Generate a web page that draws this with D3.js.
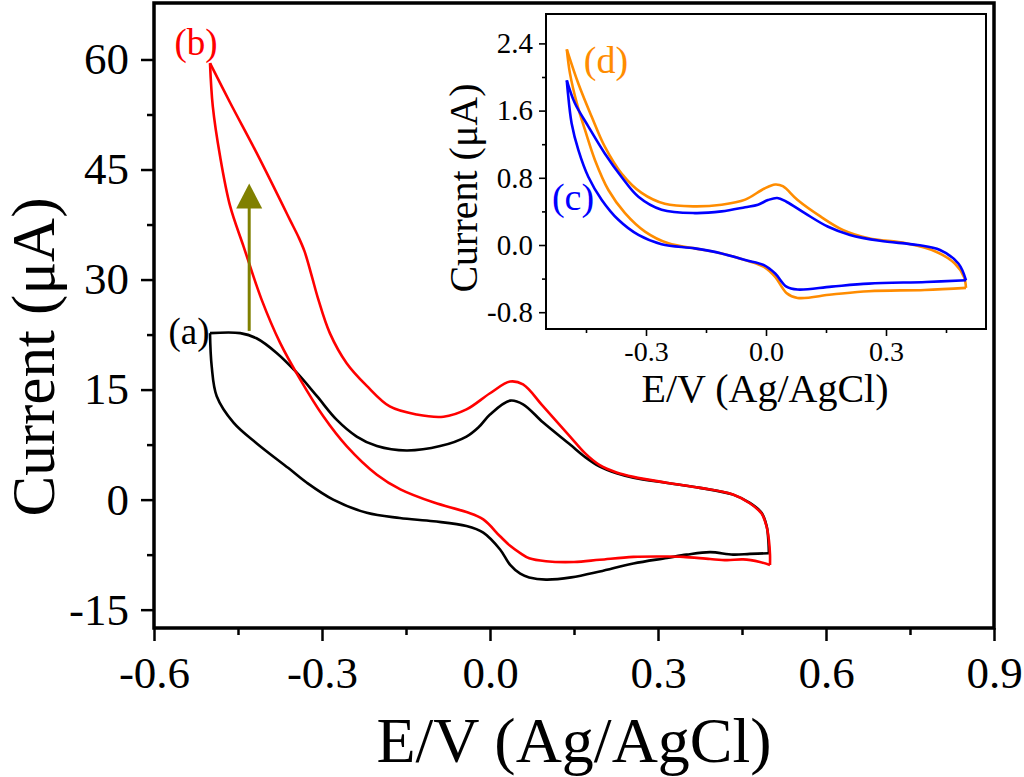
<!DOCTYPE html>
<html>
<head>
<meta charset="utf-8">
<script src="https://cdn.jsdelivr.net/npm/d3@7"></script>
<style>
body { margin: 0; background: #fff; }
svg { display: block; }
text { font-family: "Liberation Serif", "Times New Roman", serif; }
</style>
</head>
<body>
<svg id="chart" width="1024" height="777"></svg>
<script>
// ---- data: [E (V), I (uA)] ----
// (a) forward (anodic) and reverse (cathodic) scans
const scanA_fwd = [[-0.5,22.7],[-0.446,22.7],[-0.417,22.0],[-0.381,20.0],[-0.345,17.3],[-0.309,14.1],
  [-0.274,10.9],[-0.238,8.6],[-0.202,7.3],[-0.149,6.7],[-0.089,7.3],[-0.042,8.6],[-0.02,9.9],[0.0,11.6],
  [0.036,13.5],[0.059,13.0],[0.095,10.5],[0.143,7.5],[0.17,5.8],[0.196,4.5],[0.226,3.6],[0.256,3.0],
  [0.316,2.27],[0.375,1.6],[0.434,0.68],[0.464,-0.45],[0.485,-1.8],[0.494,-3.6],[0.497,-5.5],[0.498,-7.3]]
const scanA_rev = [[0.498,-7.3],[0.464,-7.4],[0.434,-7.5],[0.393,-7.15],[0.351,-7.5],[0.316,-7.95],
  [0.256,-8.7],[0.196,-9.8],[0.145,-10.6],[0.1,-10.9],[0.07,-10.6],[0.054,-10.1],[0.036,-8.9],[0.018,-6.8],
  [-0.012,-4.5],[-0.042,-3.6],[-0.101,-2.95],[-0.161,-2.5],[-0.22,-1.8],[-0.28,0.0],[-0.327,2.3],
  [-0.36,4.3],[-0.417,7.7],[-0.458,10.5],[-0.488,14.1],[-0.497,18.2],[-0.5,22.7]]
// (b)
const scanB_fwd = [[-0.5,59.5],[-0.464,54.1],[-0.417,47.3],[-0.375,40.9],[-0.357,38.1],[-0.342,35.8],
  [-0.331,33.8],[-0.318,30.4],[-0.307,27.4],[-0.286,22.7],[-0.256,18.6],[-0.22,15.5],[-0.179,12.7],
  [-0.131,11.6],[-0.083,11.3],[-0.042,12.3],[0.0,14.5],[0.036,16.1],[0.059,15.7],[0.095,12.7],
  [0.143,8.6],[0.17,6.3],[0.196,4.7],[0.226,3.7],[0.256,3.1],[0.316,2.3],[0.375,1.6],[0.434,0.7],
  [0.464,-0.5],[0.485,-1.9],[0.494,-3.7],[0.498,-5.5],[0.5,-7.5],[0.5,-8.9]]
const scanB_rev = [[0.5,-8.9],[0.482,-8.5],[0.452,-8.15],[0.423,-8.25],[0.393,-8.1],[0.345,-7.8],
  [0.316,-7.75],[0.256,-7.8],[0.196,-8.2],[0.15,-8.5],[0.1,-8.4],[0.07,-8.0],[0.054,-7.3],[0.036,-6.3],
  [0.018,-5.0],[-0.012,-2.7],[-0.042,-1.7],[-0.1,-0.4],[-0.16,1.4],[-0.202,3.4],[-0.256,7.3],
  [-0.298,11.4],[-0.339,16.4],[-0.375,21.4],[-0.408,27.3],[-0.44,34.5],[-0.464,40],[-0.482,46.8],
  [-0.495,53.6],[-0.5,59.5]]
// inset (c) and (d)
const scanC_fwd = [[-0.498,1.96],[-0.478,1.69],[-0.444,1.41],[-0.403,1.09],[-0.361,0.81],[-0.319,0.575],
  [-0.261,0.42],[-0.178,0.38],[-0.111,0.40],[-0.052,0.45],[-0.02,0.48],[0.005,0.535],[0.028,0.56],
  [0.051,0.515],[0.098,0.376],[0.154,0.22],[0.21,0.12],[0.285,0.05],[0.379,0.0],[0.435,-0.06],
  [0.481,-0.22],[0.5,-0.42]]
const scanC_rev = [[0.5,-0.42],[0.4,-0.44],[0.257,-0.46],[0.164,-0.495],[0.079,-0.53],[0.051,-0.495],
  [0.023,-0.34],[-0.005,-0.24],[-0.052,-0.18],[-0.111,-0.10],[-0.178,-0.04],[-0.261,0.01],[-0.319,0.12],
  [-0.369,0.30],[-0.411,0.54],[-0.444,0.81],[-0.469,1.13],[-0.486,1.45],[-0.496,1.85],[-0.498,1.96]]
const scanD_fwd = [[-0.498,2.33],[-0.469,1.92],[-0.436,1.53],[-0.403,1.17],[-0.361,0.85],[-0.311,0.62],
  [-0.253,0.49],[-0.178,0.46],[-0.111,0.48],[-0.052,0.54],[-0.005,0.67],[0.023,0.72],[0.042,0.70],
  [0.079,0.535],[0.136,0.34],[0.192,0.18],[0.257,0.08],[0.35,0.02],[0.425,-0.08],[0.472,-0.22],
  [0.495,-0.38],[0.5,-0.51]]
const scanD_rev = [[0.5,-0.51],[0.397,-0.535],[0.257,-0.55],[0.164,-0.59],[0.079,-0.63],[0.051,-0.57],
  [0.023,-0.38],[-0.005,-0.26],[-0.052,-0.18],[-0.111,-0.10],[-0.178,-0.04],[-0.244,0.02],[-0.3025,0.16],
  [-0.3525,0.38],[-0.394,0.655],[-0.4275,1.01],[-0.4525,1.37],[-0.473,1.69],[-0.49,2.04],[-0.498,2.33]]

// arrow (E, from I, to I)
const arrowE = -0.43
const arrowI = [23, 43.1]

// ticks
const mainXTicks = [-0.6, -0.3, 0, 0.3, 0.6, 0.9]
const mainXLabels = ['-0.6', '-0.3', '0.0', '0.3', '0.6', '0.9']
const mainXMinor = [-0.45, -0.15, 0.15, 0.45, 0.75]
const mainYTicks = [-15, 0, 15, 30, 45, 60]
const mainYLabels = ['-15', '0', '15', '30', '45', '60']
const mainYMinor = [-7.5, 7.5, 22.5, 37.5, 52.5]
const insetXTicks = [-0.3, 0, 0.3]
const insetXLabels = ['-0.3', '0.0', '0.3']
const insetXMinor = [-0.45, -0.15, 0.15, 0.45]
const insetYTicks = [-0.8, 0, 0.8, 1.6, 2.4]
const insetYLabels = ['-0.8', '0.0', '0.8', '1.6', '2.4']
const insetYMinor = [-0.4, 0.4, 1.2, 2.0]

const svg = d3.select('#chart')

// ---- main plot ----
const frame = { left: 154, right: 994, top: 3, bottom: 628 }
const x = d3.scaleLinear().domain([-0.6, 0.9]).range([frame.left, frame.right])
const y = d3.scaleLinear().domain([-17.5, 67.7]).range([frame.bottom, frame.top])

function styleAxis(g, width, fontSize) {
    g.select('.domain').remove()
    g.selectAll('line').attr('stroke', '#000').attr('stroke-width', width)
    g.selectAll('text').attr('fill', '#000').style('font-size', fontSize + 'px')
      .style('font-family', '"Liberation Serif", "Times New Roman", serif')
}

var gx = svg.append('g').attr('transform', `translate(0,${frame.bottom})`)
    .call(d3.axisBottom(x).tickValues(mainXTicks).tickFormat((d, i) => mainXLabels[i])
        .tickSize(13).tickSizeOuter(0))
styleAxis(gx, 2.5, 45)
gx.selectAll('text').attr('y', 60).attr('dy', 0)
svg.append('g').attr('transform', `translate(0,${frame.bottom})`)
    .call(d3.axisBottom(x).tickValues(mainXMinor).tickFormat('').tickSize(7).tickSizeOuter(0))
    .call(g => styleAxis(g, 2.5, 45))

var gy = svg.append('g').attr('transform', `translate(${frame.left},0)`)
    .call(d3.axisLeft(y).tickValues(mainYTicks).tickFormat((d, i) => mainYLabels[i])
        .tickSize(13).tickSizeOuter(0).tickPadding(12))
styleAxis(gy, 2.5, 45)
svg.append('g').attr('transform', `translate(${frame.left},0)`)
    .call(d3.axisLeft(y).tickValues(mainYMinor).tickFormat('').tickSize(7).tickSizeOuter(0))
    .call(g => styleAxis(g, 2.5, 45))

var line = d3.line()
    .x(d => x(d[0]))
    .y(d => y(d[1]))
    .curve(d3.curveCatmullRom.alpha(0.5))

const mainCurves = [
    { data: scanA_fwd, color: '#000' }, { data: scanA_rev, color: '#000' },
    { data: scanB_fwd, color: '#ff0000' }, { data: scanB_rev, color: '#ff0000' },
]
svg.append('g').selectAll('path').data(mainCurves).enter().append('path')
    .attr('d', d => line(d.data))
    .attr('fill', 'none')
    .attr('stroke', d => d.color)
    .attr('stroke-width', 2.6)
    .attr('stroke-linejoin', 'round')

// arrow
var arrow = svg.append('g').attr('fill', '#808000').attr('stroke', '#808000')
const headH = 25, headW = 13
arrow.append('line')
    .attr('x1', x(arrowE)).attr('x2', x(arrowE))
    .attr('y1', y(arrowI[0])).attr('y2', y(arrowI[1]) + headH - 1)
    .attr('stroke-width', 3)
arrow.append('path')
    .attr('stroke', 'none')
    .attr('d', `M${x(arrowE)},${y(arrowI[1])} L${x(arrowE) + headW},${y(arrowI[1]) + headH} L${x(arrowE) - headW},${y(arrowI[1]) + headH} Z`)

// frame
svg.append('rect')
    .attr('x', frame.left).attr('y', frame.top)
    .attr('width', frame.right - frame.left).attr('height', frame.bottom - frame.top)
    .attr('fill', 'none').attr('stroke', '#000').attr('stroke-width', 3.5)

// labels
svg.append('text').attr('x', 196).attr('y', 55).attr('text-anchor', 'middle')
    .attr('fill', '#ff0000').style('font-size', '37px').text('(b)')
svg.append('text').attr('x', 189).attr('y', 344).attr('text-anchor', 'middle')
    .attr('fill', '#000').style('font-size', '37px').text('(a)')

// axis titles
svg.append('text').attr('x', 574).attr('y', 762).attr('text-anchor', 'middle')
    .style('font-size', '64px').text('E/V (Ag/AgCl)')
svg.append('text').attr('transform', 'translate(54,357) rotate(-90)')
    .attr('text-anchor', 'middle').style('font-size', '61px').text('Current (\u03bcA)')

// ---- inset ----
const inset = { left: 546, right: 986, top: 14, bottom: 329 }
const xi = d3.scaleLinear().domain([-0.55, 0.55]).range([inset.left, inset.right])
const yi = d3.scaleLinear().domain([-1.0, 2.75]).range([inset.bottom, inset.top])

svg.append('rect')
    .attr('x', inset.left).attr('y', inset.top)
    .attr('width', inset.right - inset.left).attr('height', inset.bottom - inset.top)
    .attr('fill', '#fff')

var gxi = svg.append('g').attr('transform', `translate(0,${inset.bottom})`)
    .call(d3.axisBottom(xi).tickValues(insetXTicks).tickFormat((d, i) => insetXLabels[i])
        .tickSize(7).tickSizeOuter(0))
styleAxis(gxi, 1.6, 28)
gxi.selectAll('text').attr('y', 32).attr('dy', 0)
svg.append('g').attr('transform', `translate(0,${inset.bottom})`)
    .call(d3.axisBottom(xi).tickValues(insetXMinor).tickFormat('').tickSize(4).tickSizeOuter(0))
    .call(g => styleAxis(g, 1.6, 28))

var gyi = svg.append('g').attr('transform', `translate(${inset.left},0)`)
    .call(d3.axisLeft(yi).tickValues(insetYTicks).tickFormat((d, i) => insetYLabels[i])
        .tickSize(7).tickSizeOuter(0).tickPadding(6))
styleAxis(gyi, 1.6, 29)
svg.append('g').attr('transform', `translate(${inset.left},0)`)
    .call(d3.axisLeft(yi).tickValues(insetYMinor).tickFormat('').tickSize(4).tickSizeOuter(0))
    .call(g => styleAxis(g, 1.6, 29))

var lineInset = d3.line()
    .x(d => xi(d[0]))
    .y(d => yi(d[1]))
    .curve(d3.curveCatmullRom.alpha(0.5))

const insetCurves = [
    { data: scanD_fwd, color: '#ff8c00' }, { data: scanD_rev, color: '#ff8c00' },
    { data: scanC_fwd, color: '#0000ff' }, { data: scanC_rev, color: '#0000ff' },
]
svg.append('g').selectAll('path').data(insetCurves).enter().append('path')
    .attr('d', d => lineInset(d.data))
    .attr('fill', 'none')
    .attr('stroke', d => d.color)
    .attr('stroke-width', 2.6)
    .attr('stroke-linejoin', 'round')

svg.append('rect')
    .attr('x', inset.left).attr('y', inset.top)
    .attr('width', inset.right - inset.left).attr('height', inset.bottom - inset.top)
    .attr('fill', 'none').attr('stroke', '#000').attr('stroke-width', 2)

svg.append('text').attr('x', 606).attr('y', 73).attr('text-anchor', 'middle')
    .attr('fill', '#ff8c00').style('font-size', '38px').text('(d)')
svg.append('text').attr('x', 573).attr('y', 210).attr('text-anchor', 'middle')
    .attr('fill', '#0000ff').style('font-size', '38px').text('(c)')

svg.append('text').attr('x', 765).attr('y', 402).attr('text-anchor', 'middle')
    .style('font-size', '40px').text('E/V (Ag/AgCl)')
svg.append('text').attr('transform', 'translate(477,188) rotate(-90)')
    .attr('text-anchor', 'middle').style('font-size', '40px').text('Current (\u03bcA)')
</script>
</body>
</html>
